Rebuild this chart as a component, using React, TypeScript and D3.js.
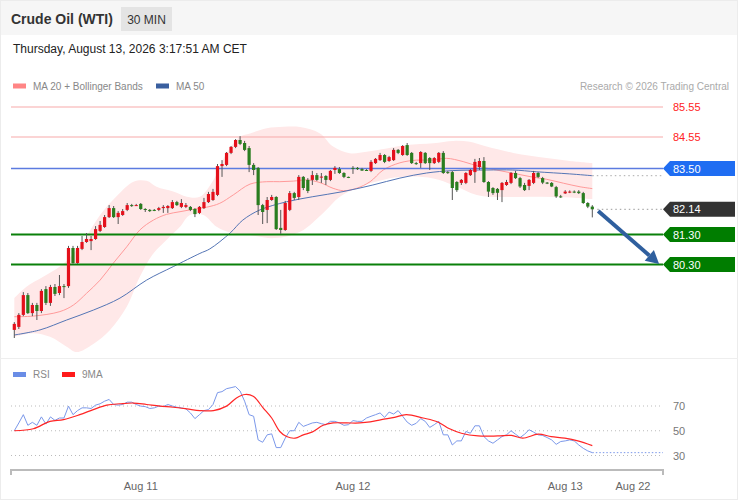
import React, { useEffect, useRef } from 'react';
import * as d3 from 'd3';

// 30 min candles, Aug 10 09:30 -> Aug 13 03:00 (red = up, green = down)
const opens = [
  78.12, 78.22, 78.62, 79.28, 78.68, 78.95, 78.75, 79.48, 79.02, 79.55,
  79.35, 79.58, 79.58, 80.85, 80.35, 80.82, 81.05, 81.08, 81.15, 81.42,
  81.55, 81.88, 82.18, 81.88, 81.95, 82.12, 82.28, 82.28, 82.32, 82.15,
  82.12, 82.12, 82.12, 82.18, 82.18, 82.18, 82.38, 82.22, 82.22, 82.22,
  82.15, 82.02, 82.18, 82.38, 82.45, 82.62, 83.58, 83.62, 84.02, 84.22,
  84.45, 84.35, 84.18, 83.62, 83.52, 82.28, 82.12, 82.45, 82.55, 81.52,
  81.45, 82.12, 82.68, 82.55, 83.22, 83.12, 83.12, 83.28, 83.22, 83.25,
  83.12, 83.45, 83.48, 83.35, 83.22, 83.52, 83.52, 83.48, 83.45, 83.42,
  83.68, 83.78, 83.95, 83.75, 83.78, 84.12, 83.95, 84.28, 84.02, 83.68,
  83.68, 84.02, 83.85, 83.68, 83.72, 84.02, 83.38, 83.38, 83.05, 83.02,
  83.02, 83.28, 83.38, 83.55, 83.75, 83.05, 82.85, 82.82, 82.78, 82.95,
  83.02, 83.35, 83.18, 82.95, 82.92, 83.02, 83.35, 83.18, 83.03, 83.02,
  82.88, 82.57, 82.67, 82.72, 82.73, 82.73, 82.68, 82.35, 82.23,
];
const highs = [
  78.38, 78.68, 79.38, 79.35, 79.02, 79.02, 79.48, 79.58, 79.62, 79.65,
  79.95, 79.65, 80.92, 80.92, 80.92, 81.25, 81.35, 81.25, 81.58, 81.75,
  81.95, 82.28, 82.25, 82.08, 82.15, 82.35, 82.32, 82.32, 82.35, 82.18,
  82.15, 82.15, 82.22, 82.28, 82.28, 82.45, 82.42, 82.48, 82.35, 82.25,
  82.18, 82.25, 82.52, 82.72, 82.82, 83.65, 83.78, 84.05, 84.25, 84.48,
  84.58, 84.42, 84.25, 83.68, 83.55, 82.32, 82.55, 82.62, 82.58, 82.12,
  82.42, 82.75, 82.72, 83.28, 83.25, 83.18, 83.42, 83.35, 83.35, 83.28,
  83.45, 83.58, 83.55, 83.38, 83.23, 83.58, 83.55, 83.52, 83.48, 83.78,
  83.85, 84.02, 83.98, 83.92, 84.18, 84.15, 84.28, 84.35, 84.05, 83.72,
  84.08, 84.05, 83.88, 83.88, 84.05, 84.08, 83.42, 83.42, 83.08, 83.15,
  83.38, 83.48, 83.82, 83.85, 83.88, 83.08, 82.88, 82.85, 83.05, 83.12,
  83.38, 83.42, 83.22, 83.02, 83.15, 83.42, 83.38, 83.22, 83.05, 83.05,
  82.92, 82.62, 82.78, 82.77, 82.77, 82.78, 82.72, 82.38, 82.28,
];
const lows = [
  77.85, 78.15, 78.58, 78.65, 78.58, 78.45, 78.68, 78.95, 78.92, 79.25,
  79.28, 79.18, 79.52, 80.32, 80.32, 80.78, 81.02, 80.78, 81.12, 81.38,
  81.52, 81.85, 81.85, 81.65, 81.92, 82.08, 82.22, 82.25, 82.12, 82.05,
  82.05, 82.08, 82.08, 82.02, 82.02, 82.15, 82.25, 82.18, 82.18, 82.08,
  81.88, 81.98, 82.15, 82.35, 82.42, 82.58, 83.22, 83.58, 83.98, 84.18,
  84.28, 84.08, 83.38, 83.28, 81.95, 81.65, 81.68, 82.42, 81.45, 81.32,
  81.42, 82.08, 82.45, 82.45, 82.78, 82.68, 82.95, 83.08, 83.02, 82.95,
  83.08, 83.32, 83.32, 83.18, 83.18, 83.32, 83.45, 83.42, 83.42, 83.38,
  83.65, 83.75, 83.68, 83.72, 83.75, 83.98, 83.92, 83.92, 83.65, 83.62,
  83.52, 83.65, 83.45, 83.65, 83.68, 83.32, 83.32, 82.45, 82.72, 82.95,
  82.98, 83.25, 83.02, 83.45, 83.02, 82.55, 82.62, 82.45, 82.38, 82.92,
  82.98, 83.15, 82.85, 82.75, 82.78, 82.98, 83.18, 82.98, 82.98, 82.88,
  82.52, 82.52, 82.65, 82.68, 82.68, 82.65, 82.32, 82.18, 81.87,
];
const closes = [
  78.32, 78.62, 79.28, 78.68, 78.95, 78.75, 79.42, 79.02, 79.55, 79.32,
  79.58, 79.55, 80.85, 80.35, 80.85, 81.05, 81.15, 81.15, 81.48, 81.62,
  81.88, 82.18, 81.88, 82.02, 82.08, 82.28, 82.27, 82.28, 82.15, 82.12,
  82.08, 82.11, 82.18, 82.22, 82.25, 82.38, 82.28, 82.35, 82.28, 82.12,
  81.98, 82.22, 82.38, 82.65, 82.72, 83.58, 83.65, 84.02, 84.22, 84.45,
  84.32, 84.12, 83.62, 83.45, 82.28, 82.05, 82.45, 82.55, 81.48, 81.45,
  82.35, 82.68, 82.52, 83.22, 82.85, 82.75, 83.28, 83.12, 83.23, 83.12,
  83.42, 83.52, 83.35, 83.22, 83.2, 83.5, 83.48, 83.43, 83.44, 83.72,
  83.82, 83.95, 83.72, 83.88, 84.12, 84.02, 84.25, 83.95, 83.68, 83.67,
  84.05, 83.68, 83.68, 83.85, 84.02, 83.35, 83.37, 82.85, 82.78, 83.12,
  83.35, 83.45, 83.72, 83.75, 83.05, 82.73, 82.68, 82.69, 83.02, 83.05,
  83.35, 83.18, 82.9, 82.78, 83.12, 83.35, 83.22, 83.03, 83.02, 82.9,
  82.57, 82.55, 82.73, 82.73, 82.72, 82.68, 82.35, 82.23, 82.14,
];

// overlays: [candle index, price]
const ma20 = [
  [0, 78.56], [4.2, 78.58], [10.1, 78.73], [13.1, 78.95], [16, 79.34], [19, 79.78],
  [21.9, 80.34], [24.9, 80.89], [27.8, 81.45], [30.8, 81.78], [33.7, 81.97], [36.7, 82.06],
  [39.6, 82.14], [42.6, 82.21], [45.5, 82.34], [48.5, 82.62], [52.2, 82.98], [55.9, 83.06],
  [58.8, 83.06], [61.8, 83.08], [64.7, 83.12], [67.7, 83.03], [70.6, 82.84], [72.9, 82.76],
  [75.8, 82.84], [78.8, 83.06], [81.7, 83.45], [85.4, 83.69], [89.1, 83.78], [92.8, 83.78],
  [95.7, 83.84], [99.4, 83.73], [103.1, 83.56], [106.8, 83.45], [110.5, 83.34], [114.2, 83.23],
  [117.9, 83.14], [121.6, 83.01], [125.3, 82.89], [128, 82.83],
];
const upperBand = [
  [0, 79.18], [2.7, 79.56], [6.4, 79.89], [10.1, 80.23], [13.1, 80.67], [16, 81.25],
  [19, 81.95], [22.7, 82.58], [26.4, 83.06], [29.3, 83.09], [31.5, 82.89], [35.2, 82.73],
  [38.2, 82.56], [41.1, 82.56], [44.1, 83.12], [47, 84.01], [50, 84.56], [52.2, 84.67],
  [55.9, 84.84], [59.6, 84.89], [63.3, 84.88], [67.7, 84.67], [70.6, 84.23], [74.3, 84.01],
  [78, 84.06], [82.5, 84.17], [86.9, 84.28], [92.8, 84.34], [97.2, 84.42], [100.9, 84.39],
  [104.6, 84.23], [110.5, 84.02], [117.9, 83.85], [123, 83.75], [128, 83.68],
];
const lowerBand = [
  [0, 77.89], [4.2, 78.01], [7.9, 77.89], [11.6, 77.56], [13.8, 77.38], [17.5, 77.65],
  [21.2, 78.12], [24.9, 78.89], [27.8, 79.89], [30.8, 80.67], [33.7, 81.12], [36.7, 81.56],
  [38.9, 81.95], [41.9, 81.95], [44.8, 81.56], [48.5, 81.34], [52.2, 81.28], [57.7, 81.18],
  [63.3, 81.39], [68.4, 82.02], [72.1, 82.56], [76.5, 82.89], [81.6, 83.12], [86.9, 83.23],
  [92.8, 83.17], [97.2, 82.95], [102.4, 82.62], [108.3, 82.55], [114.2, 82.56], [119.4, 82.55],
  [124.5, 82.52], [128, 82.48],
];
const ma50 = [
  [0, 77.95], [5.7, 78.12], [11.6, 78.45], [17.5, 78.78], [23.4, 79.18], [29.3, 79.78],
  [35.2, 80.23], [41.1, 80.67], [43.3, 80.82], [47.8, 81.35], [50.6, 81.78], [54.4, 82.12],
  [60.3, 82.39], [66.1, 82.56], [72.8, 82.73], [79.4, 82.95], [85.4, 83.18], [91.3, 83.35],
  [97.1, 83.43], [104.6, 83.45], [110.4, 83.45], [115.7, 83.39], [123, 83.32], [128, 83.26],
];

const rsi = [
  50, 56.3, 63, 54.4, 56.8, 54.4, 61.2, 55.4, 61.2, 58.4,
  60.3, 60.3, 69.9, 63, 66.3, 68.5, 68.5, 68, 70.7, 71.8,
  73.9, 75.3, 71.2, 70.7, 71.2, 73.1, 73.1, 71.2, 69.9, 69.5,
  68, 68.5, 69.9, 69.5, 71.2, 70, 69, 68.5, 67.7, 64.4,
  59.8, 63, 66.3, 67.1, 71.2, 80.8, 81.6, 84, 84.8, 85.7,
  82.1, 73.9, 63, 61.7, 42.6, 40.7, 46.7, 47.5, 36.4, 36.4,
  44, 50, 50, 56.8, 53.5, 54.9, 56.3, 56.8, 55.7, 54.9,
  57.6, 57.6, 56.3, 54.4, 54.9, 58.2, 57.6, 57.6, 60.3, 61.7,
  63, 64.4, 60.8, 65.1, 63.5, 66.3, 61.7, 57, 54.4, 56,
  59.8, 57.6, 52.7, 54.9, 57.6, 46.7, 46.7, 38.5, 41.8, 41.8,
  49.4, 48, 54, 54, 45.3, 41.8, 39.9, 42.6, 45.3, 46.7,
  50, 47.2, 44.5, 47.2, 50.8, 48.9, 46.7, 46.2, 44.5, 42.6,
  39, 41.3, 41.8, 42.6, 41.8, 38.5, 35.8, 33.7, 32.3,
];
const rsiMa = [
  [0, 50], [4.2, 51.6], [7.9, 57.6], [10.9, 59], [14.5, 63], [17.5, 67.1], [20.5, 70.7],
  [23.4, 71.8], [26.4, 72.4], [29.3, 71.2], [32.3, 69.9], [35.2, 69], [38.2, 67.7],
  [41.1, 66.3], [44.1, 66.3], [47, 69.9], [49.2, 76.5], [51.1, 79.3], [52.9, 77.9],
  [55.1, 68.5], [57, 60.3], [58.8, 49.4], [60.3, 45.3], [62.2, 44], [64, 46.7],
  [65.9, 48.9], [68.4, 54.4], [70.6, 56.3], [73.6, 56.3], [76.5, 56.3], [78.8, 57.1],
  [81.3, 59], [84.2, 60.8], [86.8, 63], [90.5, 60.3], [93.8, 57.1], [96.4, 51.6],
  [99, 48], [102.7, 45.8], [107.1, 45.8], [110.1, 46.2], [112.6, 44], [116, 47.2],
  [118.9, 45.3], [121.9, 44], [124.8, 41.8], [128, 38],
];

const resistances = [85.55, 84.55];
const pivot = 83.5;
const lastPrice = 82.14;
const supports = [81.3, 80.3];

const dayTicks = [28, 75, 122, 137];
const dayLabels = ['Aug 11', 'Aug 12', 'Aug 13', 'Aug 22'];
const rsiLevels = [70, 50, 30];

// forecast arrow: [candle index, price]
const arrowFrom = [129.3, 82.08];
const arrowTo = [142.8, 80.32];

const App: React.FC = () => {
  const svgRef = useRef<SVGSVGElement | null>(null);

  useEffect(() => {
    document.body.style.margin = '0';
    if (!svgRef.current) return;

    const font = 'Liberation Sans, Arial, Helvetica, sans-serif';
    const left = 11;
    const right = 663;
    const last = closes.length - 1;

    const x = d3.scaleLinear().domain([0, last]).range([14.3, 592.3]);
    const y = d3.scaleLinear().domain([77.2, 86]).range([357.5, 93.5]);
    const yr = d3.scaleLinear().domain([30, 70]).range([455.5, 406]);

    const svg = d3.select(svgRef.current);
    svg.selectAll('*').remove();

    // background, header
    svg.append('rect').attr('width', 738).attr('height', 500).attr('fill', '#fff');
    svg.append('rect').attr('width', 738).attr('height', 35).attr('fill', '#f6f6f6');
    svg.append('rect').attr('x', 0.5).attr('y', 0.5).attr('width', 737).attr('height', 499)
      .attr('fill', 'none').attr('stroke', '#ececec');

    svg.append('text').attr('x', 11).attr('y', 24).attr('font-family', font)
      .attr('font-size', 14).attr('font-weight', 'bold').attr('fill', '#333')
      .text('Crude Oil (WTI)');
    svg.append('rect').attr('x', 121).attr('y', 7).attr('width', 51).attr('height', 24)
      .attr('fill', '#e4e4e4');
    svg.append('text').attr('x', 146.5).attr('y', 23.5).attr('text-anchor', 'middle')
      .attr('font-family', font).attr('font-size', 12).attr('fill', '#333').text('30 MIN');
    svg.append('text').attr('x', 13).attr('y', 53).attr('font-family', font)
      .attr('font-size', 12).attr('fill', '#222')
      .text('Thursday, August 13, 2026 3:17:51 AM CET');

    // legend
    const legend = (lx: number, ly: number, color: string, label: string) => {
      svg.append('rect').attr('x', lx).attr('y', ly - 2.5).attr('width', 13).attr('height', 5)
        .attr('fill', color);
      svg.append('text').attr('x', lx + 20).attr('y', ly + 4).attr('font-family', font)
        .attr('font-size', 10).attr('fill', '#888').text(label);
    };
    legend(13, 86, '#ff8585', 'MA 20 + Bollinger Bands');
    legend(156, 86, '#3a5f9f', 'MA 50');
    svg.append('text').attr('x', 729).attr('y', 90).attr('text-anchor', 'end')
      .attr('font-family', font).attr('font-size', 10).attr('fill', '#aaa')
      .text('Research \u00a9 2026 Trading Central');

    // bollinger band + moving averages
    const curve = d3.curveCatmullRom.alpha(0.5);
    const priceLine = d3.line<number[]>().x(d => x(d[0])).y(d => y(d[1])).curve(curve);
    const up = priceLine(upperBand) || '';
    const lo = priceLine(lowerBand.slice().reverse()) || '';
    svg.append('path').attr('d', up + 'L' + lo.slice(1) + 'Z').attr('fill', '#ffe8e8');
    svg.append('path').attr('d', priceLine(ma20)).attr('fill', 'none')
      .attr('stroke', '#ff9a9a').attr('stroke-width', 1);
    svg.append('path').attr('d', priceLine(ma50)).attr('fill', 'none')
      .attr('stroke', '#5475b5').attr('stroke-width', 1);

    // key levels
    resistances.forEach(p => {
      svg.append('line').attr('x1', left).attr('x2', right).attr('y1', y(p)).attr('y2', y(p))
        .attr('stroke', '#f7a9a9').attr('stroke-width', 1);
      svg.append('text').attr('x', 673).attr('y', y(p) + 4).attr('font-family', font)
        .attr('font-size', 11).attr('fill', '#f22').text(p.toFixed(2));
    });
    svg.append('line').attr('x1', left).attr('x2', right).attr('y1', y(pivot)).attr('y2', y(pivot))
      .attr('stroke', '#5c7be0').attr('stroke-width', 1.3);
    supports.forEach(p => {
      svg.append('line').attr('x1', left).attr('x2', right).attr('y1', y(p)).attr('y2', y(p))
        .attr('stroke', '#0a800a').attr('stroke-width', 2);
    });

    // dotted extensions
    const lastMa50 = ma50[ma50.length - 1][1];
    svg.append('line').attr('x1', x(last)).attr('x2', right)
      .attr('y1', y(lastMa50)).attr('y2', y(lastMa50))
      .attr('stroke', '#aaa').attr('stroke-dasharray', '1.5,3');
    svg.append('line').attr('x1', x(last) + 5).attr('x2', right)
      .attr('y1', y(lastPrice)).attr('y2', y(lastPrice))
      .attr('stroke', '#999').attr('stroke-dasharray', '1.5,3');

    // candles
    const candles = svg.append('g');
    closes.forEach((c, i) => {
      const o = opens[i];
      const cx = x(i);
      const isUp = c >= o;
      candles.append('line').attr('x1', cx).attr('x2', cx)
        .attr('y1', y(highs[i])).attr('y2', y(lows[i]))
        .attr('stroke', '#555').attr('stroke-width', 1);
      const top = y(Math.max(o, c));
      const h = Math.max(1, y(Math.min(o, c)) - top);
      candles.append('rect').attr('x', cx - 1.6).attr('y', top).attr('width', 3.2).attr('height', h)
        .attr('fill', isUp ? '#e4101b' : '#2a7d1f');
    });

    // forecast arrow
    const ax0 = x(arrowFrom[0]);
    const ay0 = y(arrowFrom[1]);
    const ax1 = x(arrowTo[0]);
    const ay1 = y(arrowTo[1]);
    const ang = Math.atan2(ay1 - ay0, ax1 - ax0);
    const headLen = 13;
    const headW = 7;
    const bx = ax1 - headLen * Math.cos(ang);
    const by = ay1 - headLen * Math.sin(ang);
    svg.append('line').attr('x1', ax0).attr('y1', ay0).attr('x2', bx).attr('y2', by)
      .attr('stroke', '#2f5f9e').attr('stroke-width', 4);
    const px = -Math.sin(ang) * headW;
    const py = Math.cos(ang) * headW;
    svg.append('path')
      .attr('d', `M${ax1},${ay1}L${bx + px},${by + py}L${bx - px},${by - py}Z`)
      .attr('fill', '#2f5f9e');

    // right-hand price tags
    const tag = (p: number, color: string) => {
      const yc = y(p);
      svg.append('path')
        .attr('d', `M${right},${yc}L${right + 7},${yc - 7.5}L735,${yc - 7.5}L735,${yc + 7.5}L${right + 7},${yc + 7.5}Z`)
        .attr('fill', color);
      svg.append('text').attr('x', 673).attr('y', yc + 4).attr('font-family', font)
        .attr('font-size', 11).attr('fill', '#fff').text(p.toFixed(2));
    };
    tag(pivot, '#1f6df2');
    tag(lastPrice, '#333');
    supports.forEach(p => tag(p, '#007d00'));

    // RSI panel
    svg.append('line').attr('x1', 0).attr('x2', 738).attr('y1', 358.5).attr('y2', 358.5)
      .attr('stroke', '#eee');
    const rsiLegend = (lx: number, color: string, label: string) => {
      svg.append('rect').attr('x', lx).attr('y', 372).attr('width', 13).attr('height', 5)
        .attr('fill', color);
      svg.append('text').attr('x', lx + 20).attr('y', 378).attr('font-family', font)
        .attr('font-size', 10).attr('fill', '#888').text(label);
    };
    rsiLegend(13, '#6a8de6', 'RSI');
    rsiLegend(62, '#ff1a1a', '9MA');

    rsiLevels.forEach(v => {
      svg.append('line').attr('x1', left).attr('x2', right).attr('y1', yr(v)).attr('y2', yr(v))
        .attr('stroke', '#bbb').attr('stroke-dasharray', '1,3');
      svg.append('text').attr('x', 673).attr('y', yr(v) + 4).attr('font-family', font)
        .attr('font-size', 11).attr('fill', '#777').text(String(v));
    });

    const rsiLine = d3.line<number>().x((_, i) => x(i)).y(d => yr(d));
    svg.append('path').attr('d', rsiLine(rsi)).attr('fill', 'none')
      .attr('stroke', '#7b98ea').attr('stroke-width', 1);
    svg.append('line').attr('x1', x(last)).attr('x2', right)
      .attr('y1', yr(rsi[last])).attr('y2', yr(rsi[last]))
      .attr('stroke', '#7b98ea').attr('stroke-dasharray', '1.5,2');
    const maLine = d3.line<number[]>().x(d => x(d[0])).y(d => yr(d[1])).curve(curve);
    svg.append('path').attr('d', maLine(rsiMa)).attr('fill', 'none')
      .attr('stroke', '#ff2626').attr('stroke-width', 1.2);

    // time axis
    svg.append('line').attr('x1', left).attr('x2', right).attr('y1', 470).attr('y2', 470)
      .attr('stroke', '#bbb').attr('stroke-width', 2);
    [left, right].forEach(ex => {
      svg.append('line').attr('x1', ex).attr('x2', ex).attr('y1', 469).attr('y2', 475)
        .attr('stroke', '#bbb').attr('stroke-width', 2);
    });
    dayTicks.forEach((t, k) => {
      svg.append('text').attr('x', x(t)).attr('y', 490).attr('text-anchor', 'middle')
        .attr('font-family', font).attr('font-size', 11).attr('fill', '#666')
        .text(dayLabels[k]);
    });
  }, []);

  return <svg ref={svgRef} width={738} height={500} style={{ display: 'block' }} />;
};

export default App;
